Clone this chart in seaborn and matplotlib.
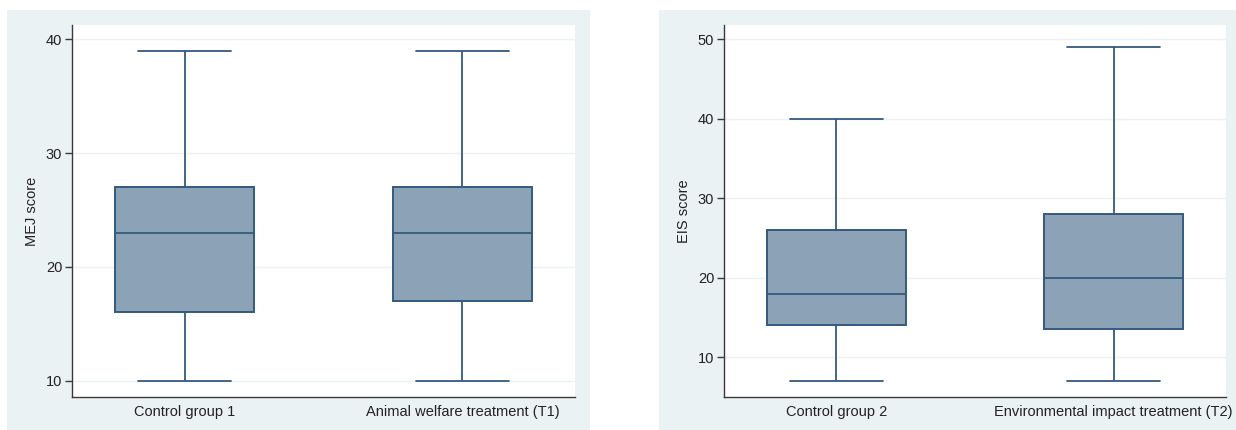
import numpy as np
import pandas as pd
import seaborn as sns
import matplotlib
matplotlib.use("Agg")
import matplotlib.pyplot as plt
from matplotlib.patches import Rectangle

# Five-number summaries (min, Q1, median, Q3, max) for each group
mej_groups = ["Control group 1", "Animal welfare treatment (T1)"]
mej_min = [10, 10]
mej_q1 = [16, 17]
mej_median = [23, 23]
mej_q3 = [27, 27]
mej_max = [39, 39]

eis_groups = ["Control group 2", "Environmental impact treatment (T2)"]
eis_min = [7, 7]
eis_q1 = [14, 13.5]
eis_median = [18, 20]
eis_q3 = [26, 28]
eis_max = [40, 49]

mej_ticks = [10, 20, 30, 40]
eis_ticks = [10, 20, 30, 40, 50]


def summary_frame(groups, mins, q1s, meds, q3s, maxs):
    # Five ordered points per group reproduce the quartiles exactly
    rows = []
    for g, a, b, c, d, e in zip(groups, mins, q1s, meds, q3s, maxs):
        for v in (a, b, c, d, e):
            rows.append({"group": g, "score": v})
    return pd.DataFrame(rows)


mej_df = summary_frame(mej_groups, mej_min, mej_q1, mej_median, mej_q3, mej_max)
eis_df = summary_frame(eis_groups, eis_min, eis_q1, eis_median, eis_q3, eis_max)

sns.set_theme(style="white")
plt.rcParams["font.family"] = ["Liberation Sans", "DejaVu Sans"]

PANEL_BG = "#EAF2F3"
NAVY = "#355A7E"
FILL = "#8CA3B7"
AXIS = "#3A3A3A"

fig = plt.figure(figsize=(12.36, 4.30), dpi=100, facecolor="white")

# Light panel backgrounds behind each plot region
for x0, w in [(0.0057, 0.4717), (0.5332, 0.4700)]:
    fig.patches.append(Rectangle((x0, 0.0), w, 0.9767, transform=fig.transFigure,
                                 facecolor=PANEL_BG, edgecolor="none", zorder=-10))

ax1 = fig.add_axes([0.0583, 0.0767, 0.4069, 0.8652])
ax2 = fig.add_axes([0.5858, 0.0767, 0.4061, 0.8652])

panels = [
    (ax1, mej_df, mej_groups, "MEJ score", mej_ticks, (8.57, 41.26)),
    (ax2, eis_df, eis_groups, "EIS score", eis_ticks, (5.0, 51.8)),
]

line_kw = dict(color=NAVY, linewidth=1.3)
for ax, df, order, ylabel, ticks, ylim in panels:
    ax.set_zorder(5)
    ax.set_facecolor("white")
    sns.boxplot(data=df, x="group", y="score", order=order, ax=ax,
                whis=(0, 100), width=0.5, color=FILL, saturation=1,
                boxprops=dict(facecolor=FILL, edgecolor=NAVY, linewidth=1.4),
                whiskerprops=line_kw, capprops=line_kw, medianprops=line_kw,
                showfliers=False)
    # Widen the whisker caps to about two thirds of the box width
    for line in ax.lines:
        xd = np.asarray(line.get_xdata(), dtype=float)
        yd = np.asarray(line.get_ydata(), dtype=float)
        if len(xd) == 2 and yd[0] == yd[1] and xd[0] != xd[1]:
            c = xd.mean()
            half = abs(xd[1] - xd[0]) / 2
            if half < 0.2:
                line.set_xdata([c - 0.167, c + 0.167])
    ax.set_xlim(-0.405, 1.405)
    ax.set_ylim(*ylim)
    ax.set_yticks(ticks)
    ax.yaxis.grid(True, color=PANEL_BG, linewidth=1.0)
    ax.xaxis.grid(False)
    ax.set_axisbelow(True)
    for s in ("top", "right"):
        ax.spines[s].set_visible(False)
    for s in ("left", "bottom"):
        ax.spines[s].set_color(AXIS)
        ax.spines[s].set_linewidth(1.0)
    ax.tick_params(axis="y", which="major", left=True, length=5, width=1,
                   color=AXIS, labelsize=10.5, labelcolor="#222222", pad=2)
    ax.tick_params(axis="x", which="major", bottom=False, labelsize=10.5,
                   labelcolor="#222222", pad=0)
    ax.set_xlabel("")
    ax.set_ylabel(ylabel, fontsize=10.5, color="#222222", labelpad=5)

fig.savefig("out.png", dpi=100, facecolor="white")
